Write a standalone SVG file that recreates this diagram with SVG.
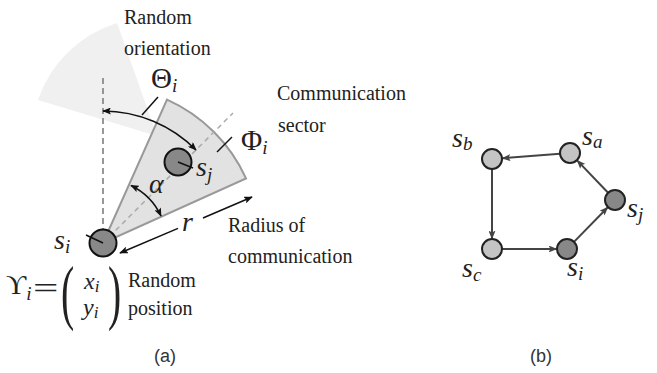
<svg xmlns="http://www.w3.org/2000/svg" width="657" height="373" viewBox="0 0 657 373">
<defs>
<style>
.txt{font-family:'Liberation Serif','DejaVu Serif','Times New Roman',serif;font-size:20px;fill:#222}
.m{font-family:'Liberation Serif','DejaVu Serif','Times New Roman',serif;font-style:italic;font-size:28px;fill:#222}
.g{font-family:'Liberation Serif','DejaVu Serif','Times New Roman',serif;font-size:29px;fill:#222}
.sub{font-size:19px}
.cap{font-family:'Liberation Sans',Arial,sans-serif;font-size:18px;fill:#333;text-anchor:middle}
.ln{stroke:#111;stroke-width:1.5;fill:none}
.node-l{fill:#c4c4c4;stroke:#222;stroke-width:2}
.node-d{fill:#888;stroke:#222;stroke-width:2}
.big{fill:#888;stroke:#111;stroke-width:2}
.edge{stroke:#444;stroke-width:2;fill:none;marker-end:url(#ab)}
</style>
<marker id="ah" viewBox="0 0 10 8" refX="9" refY="4" markerWidth="9" markerHeight="7" markerUnits="userSpaceOnUse" orient="auto-start-reverse">
<path d="M0,0 L10,4 L0,8 L2,4 z" fill="#111"/>
</marker>
<marker id="ab" viewBox="0 0 10 8" refX="9" refY="4" markerWidth="9" markerHeight="7" markerUnits="userSpaceOnUse" orient="auto">
<path d="M0,0 L10,4 L0,8 L2,4 z" fill="#444"/>
</marker>
</defs>
<rect width="657" height="373" fill="#fff"/>

<!-- (a) -->
<g id="faded-sector">
<path d="M157,136 L38,100 A122,122 0 0 1 117,23 Z" fill="#f0f0f0"/>
</g>
<g id="comm-sector">
<path d="M103,243 L167,99.6 A157,157 0 0 1 246,178.4 Z" fill="#e2e2e2" stroke="#999" stroke-width="2"/>
</g>
<g id="guides">
<path d="M103,243 L233,113" stroke="#aaa" stroke-width="1.5" stroke-dasharray="5,4" fill="none"/>
<path d="M103,78 L103,230" stroke="#777" stroke-width="1.5" stroke-dasharray="6,4" fill="none"/>
</g>
<g id="connectors">
<path class="ln" d="M103,111 A132,132 0 0 1 196,150" marker-start="url(#ah)" marker-end="url(#ah)"/>
<path class="ln" d="M131,185.5 A64,64 0 0 1 161,216" marker-start="url(#ah)" marker-end="url(#ah)"/>
<path class="ln" d="M178,228.4 L120,253" marker-end="url(#ah)"/>
<path class="ln" d="M203,218 L252,197" marker-end="url(#ah)"/>
<path class="ln" d="M142,115 L158,97"/>
<path class="ln" d="M217,152 L232,137"/>
</g>
<g id="node-si">
<circle class="big" cx="103" cy="243" r="13.5"/>
<line class="ln" x1="86" y1="235" x2="103" y2="243"/>
</g>
<g id="node-sj">
<circle class="big" cx="178" cy="162" r="13.5"/>
<line class="ln" x1="178" y1="162" x2="193" y2="168"/>
</g>
<g id="labels-a">
<text class="txt" x="124" y="24">Random</text>
<text class="txt" x="124" y="55">orientation</text>
<text class="txt" x="277" y="100">Communication</text>
<text class="txt" x="278" y="132">sector</text>
<text class="txt" x="228" y="232">Radius of</text>
<text class="txt" x="228" y="263">communication</text>
<text class="txt" x="128" y="287">Random</text>
<text class="txt" x="128" y="315">position</text>
<text class="g" x="151" y="88">Θ<tspan class="m sub" dy="4">i</tspan></text>
<text class="g" x="241" y="150">Φ<tspan class="m sub" dy="4">i</tspan></text>
<text class="m" x="149" y="193">α</text>
<text class="m" x="182" y="231">r</text>
<text class="m" x="54" y="249">s<tspan class="sub" dy="4">i</tspan></text>
<text class="m" x="196" y="176">s<tspan class="sub" dy="5">j</tspan></text>
<text class="g" x="6" y="294" style="font-size:28px">ϒ<tspan class="m sub" dy="6">i</tspan></text>
<text class="g" transform="translate(33,298) scale(1.5,1)" style="font-size:30px">=</text>
<text class="g" transform="translate(61,316) scale(0.55,1)" style="font-size:72px">(</text>
<text class="g" transform="translate(108,316) scale(0.55,1)" style="font-size:72px">)</text>
<text class="m" x="84" y="289" style="font-size:24px">x<tspan style="font-size:17px" dy="3">i</tspan></text>
<text class="m" x="83" y="315" style="font-size:24px">y<tspan style="font-size:17px" dy="3">i</tspan></text>
<text class="cap" x="165" y="362">(a)</text>
</g>

<!-- (b) -->
<g id="edges-b">
<path class="edge" d="M560,153.8 L502.5,158.2"/>
<path class="edge" d="M492,169 L492,238.5"/>
<path class="edge" d="M502,249 L556.5,249"/>
<path class="edge" d="M574,241.9 L607.6,207.5"/>
<path class="edge" d="M608.1,192.8 L577.3,160.6"/>
</g>
<g id="b-sa"><circle class="node-l" cx="570" cy="153" r="10"/><text class="m" x="582" y="145">s<tspan class="sub" dy="3">a</tspan></text></g>
<g id="b-sb"><circle class="node-l" cx="492" cy="159" r="10"/><text class="m" x="452" y="147">s<tspan class="sub" dy="3">b</tspan></text></g>
<g id="b-sc"><circle class="node-l" cx="492" cy="249" r="10"/><text class="m" x="462" y="277">s<tspan class="sub" dy="4">c</tspan></text></g>
<g id="b-si"><circle class="node-d" cx="567" cy="249" r="10"/><text class="m" x="567" y="276">s<tspan class="sub" dy="4">i</tspan></text></g>
<g id="b-sj"><circle class="node-d" cx="615" cy="200" r="10"/><text class="m" x="627" y="217">s<tspan class="sub" dy="4">j</tspan></text></g>
<text class="cap" x="541" y="362">(b)</text>
</svg>
